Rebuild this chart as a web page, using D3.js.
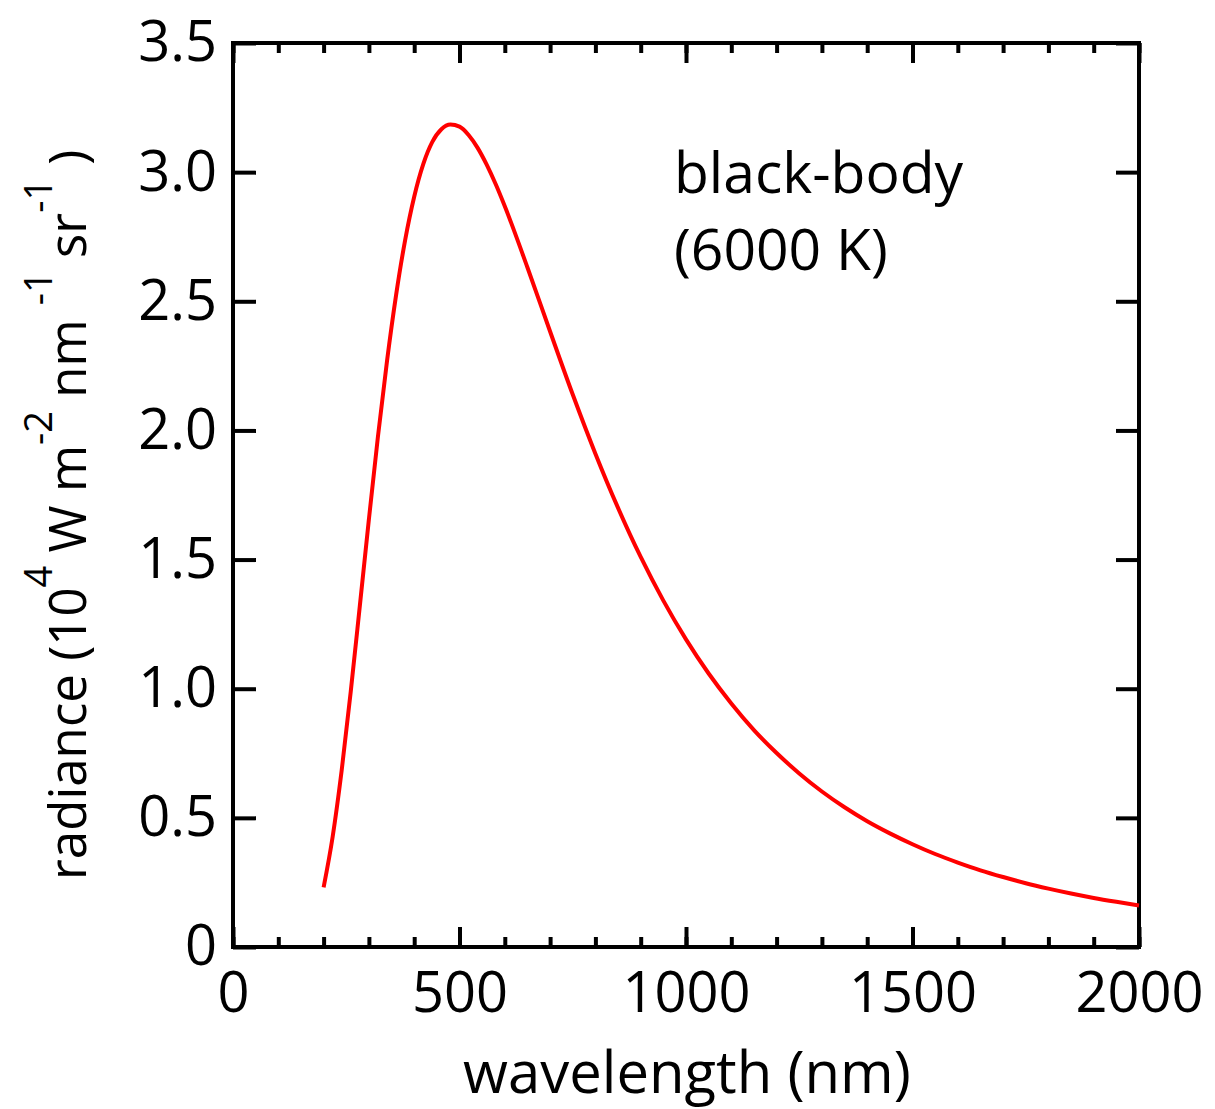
<!DOCTYPE html>
<html lang="en">
<head>
    <meta charset="UTF-8">
    <title>Black-body radiance</title>
    <script src="https://d3js.org/d3.v7.min.js"></script>
    <style>
        body {
            margin: 0;
            background: #ffffff;
            font-family: 'Open Sans', sans-serif;
        }
        svg text {
            fill: #000;
        }
    </style>
</head>
<body>
    <div id="chart"></div>

    <script>
        // wavelength (nm) and radiance (10^4 W m^-2 nm^-1 sr^-1)
        const wavelengths = [200, 220, 240, 260, 280, 300, 320, 340, 360, 380, 400, 420, 440, 460, 480,
            500, 520, 540, 560, 580, 600, 650, 700, 750, 800, 850, 900, 950, 1000, 1050, 1100, 1150,
            1200, 1250, 1300, 1350, 1400, 1450, 1500, 1550, 1600, 1650, 1700, 1750, 1800, 1850, 1900,
            1950, 2000];
        const radiance = [0.231, 0.427, 0.685, 0.990, 1.321, 1.656, 1.977, 2.269, 2.524, 2.737, 2.905,
            3.031, 3.117, 3.166, 3.184, 3.176, 3.144, 3.094, 3.029, 2.953, 2.868, 2.631, 2.383, 2.139,
            1.910, 1.700, 1.510, 1.341, 1.191, 1.059, 0.943, 0.840, 0.751, 0.672, 0.602, 0.541, 0.487,
            0.440, 0.398, 0.360, 0.327, 0.297, 0.271, 0.247, 0.226, 0.207, 0.190, 0.175, 0.161];

        const xMajorTicks = [0, 500, 1000, 1500, 2000];
        const xMinorTicks = d3.range(0, 2001, 100);
        const yTicks = [0, 0.5, 1.0, 1.5, 2.0, 2.5, 3.0, 3.5];
        const yTickLabels = ["0", "0.5", "1.0", "1.5", "2.0", "2.5", "3.0", "3.5"];

        const W = 1215, H = 1109;
        const margin = {left: 233, top: 43, right: 76, bottom: 162};
        const width = W - margin.left - margin.right;   // 906
        const height = H - margin.top - margin.bottom;  // 904

        const svg = d3.select("#chart").append("svg")
            .attr("width", W)
            .attr("height", H);

        const g = svg.append("g")
            .attr("transform", `translate(${margin.left},${margin.top})`);

        const x = d3.scaleLinear().domain([0, 2000]).range([0, width]);
        const y = d3.scaleLinear().domain([0, 3.5]).range([height, 0]);

        const tickFont = 56;

        // inward ticks on all four sides
        const styleAxis = sel => {
            sel.select(".domain").remove();
            sel.selectAll(".tick line").attr("stroke", "#000").attr("stroke-width", 4);
        };
        const styleText = sel => sel.selectAll("text")
            .attr("font-family", "'Open Sans', sans-serif")
            .attr("font-size", tickFont)
            .attr("fill", "#000");

        // bottom: minor ticks (no labels)
        g.append("g")
            .attr("transform", `translate(0,${height})`)
            .call(d3.axisBottom(x).tickValues(xMinorTicks).tickSize(-10).tickFormat(""))
            .call(styleAxis);
        // bottom: major ticks with labels
        g.append("g")
            .attr("transform", `translate(0,${height})`)
            .call(d3.axisBottom(x).tickValues(xMajorTicks).tickSize(-20).tickPadding(25).tickFormat(d3.format("d")))
            .call(styleAxis)
            .call(styleText);
        // top ticks
        g.append("g")
            .call(d3.axisTop(x).tickValues(xMinorTicks).tickSize(-10).tickFormat(""))
            .call(styleAxis);
        g.append("g")
            .call(d3.axisTop(x).tickValues(xMajorTicks).tickSize(-20).tickFormat(""))
            .call(styleAxis);

        // left: ticks with labels
        g.append("g")
            .call(d3.axisLeft(y).tickValues(yTicks).tickSize(-23).tickPadding(16)
                .tickFormat((d, i) => yTickLabels[i]))
            .call(styleAxis)
            .call(styleText);
        // right ticks
        g.append("g")
            .attr("transform", `translate(${width},0)`)
            .call(d3.axisRight(y).tickValues(yTicks).tickSize(-23).tickFormat(""))
            .call(styleAxis);

        // frame
        g.append("rect")
            .attr("x", 0).attr("y", 0)
            .attr("width", width).attr("height", height)
            .attr("fill", "none")
            .attr("stroke", "#000")
            .attr("stroke-width", 4);

        // curve
        const pts = wavelengths.map((w, i) => [w, radiance[i]]);
        const line = d3.line()
            .x(d => x(d[0]))
            .y(d => y(d[1]))
            .curve(d3.curveMonotoneX);

        g.append("path")
            .datum(pts)
            .attr("d", line)
            .attr("fill", "none")
            .attr("stroke", "#ff0000")
            .attr("stroke-width", 4);

        // annotation
        const note = g.append("text")
            .attr("font-family", "'Open Sans', sans-serif")
            .attr("font-size", 57);
        note.append("tspan").attr("x", 674 - margin.left).attr("y", 193 - margin.top).text("black-body");
        note.append("tspan").attr("x", 674 - margin.left).attr("y", 270 - margin.top).text("(6000 K)");

        // x label
        svg.append("text")
            .attr("x", margin.left + width / 2 + 1)
            .attr("y", 1093)
            .attr("text-anchor", "middle")
            .attr("font-family", "'Open Sans', sans-serif")
            .attr("font-size", 58)
            .text("wavelength (nm)");

        // y label with superscripts
        const yl = svg.append("text")
            .attr("transform", "translate(86,880) rotate(-90)")
            .attr("text-anchor", "start")
            .attr("font-family", "'Open Sans', sans-serif")
            .attr("font-size", 51);
        const sup = (t, gap) => yl.append("tspan").attr("dy", -34).attr("dx", gap || 0).attr("font-size", 38).text(t);
        const norm = (t, gap) => yl.append("tspan").attr("dy", 34).attr("dx", gap || 0).text(t);
        yl.append("tspan").text("radiance (10");
        sup("4");
        norm(" W m");
        sup("-2");
        norm(" nm");
        sup("-1", 14);
        norm(" sr");
        sup("-1");
        norm(")", 14);
    </script>
</body>
</html>
